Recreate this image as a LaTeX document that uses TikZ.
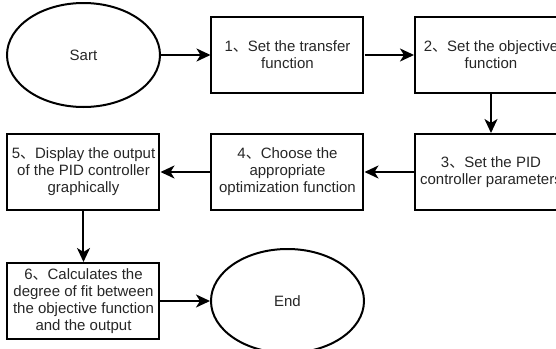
\documentclass[tikz,border=0pt]{standalone}
\usepackage{fontspec}
\setmainfont{Liberation Sans}
\newfontfamily\cjk{Noto Sans CJK SC}
\usepackage{tikz}
\usetikzlibrary{arrows.meta, calc, matrix, shapes.geometric}
\newcommand{\dun}{{\cjk 、}}

\begin{document}
\begin{tikzpicture} [>={Stealth[length=14pt, width=13pt, inset=4pt]},
	line width=2pt,
	every node/.style={align=center, text=black!85, font=\fontsize{15pt}{17pt}\selectfont},
	stepbox/.style={draw, rectangle, minimum width=152pt, minimum height=76pt, inner sep=2pt},
	term/.style={draw, ellipse, minimum width=153pt, minimum height=104pt, inner sep=0pt}]
	
	\matrix(flow)[ampersand replacement=\&, % <- \& between cells
	row sep=25pt, column sep=49pt]
	{
		\node[term](start){Sart}; \& \node[stepbox](s1){1\dun Set the transfer\\function}; \& \node[stepbox](s2){2\dun Set the objective\\function}; \\
		\node[stepbox](s5){5\dun Display the output\\of the PID controller\\graphically}; \& \node[stepbox](s4){4\dun Choose the\\appropriate\\optimization function}; \& \node[stepbox](s3){3\dun Set the PID\\controller parameters}; \\[12pt]
		\node[stepbox](s6){6\dun Calculates the\\degree of fit between\\the objective function\\and the output}; \& \node[term](end){End}; \& \\
	};
	
	\draw[->] (start) -- (s1);
	\draw[->] (s1) -- (s2);
	\draw[->] (s2) -- (s3);
	\draw[->] (s3) -- (s4);
	\draw[->] (s4) -- (s5);
	\draw[->] (s5) -- (s6);
	\draw[->] (s6) -- (end);
	
	\pgfresetboundingbox
	\useasboundingbox ($(start.center)+(-83.5pt,55pt)$) rectangle ++(556pt,-348pt);
\end{tikzpicture}
\end{document}
